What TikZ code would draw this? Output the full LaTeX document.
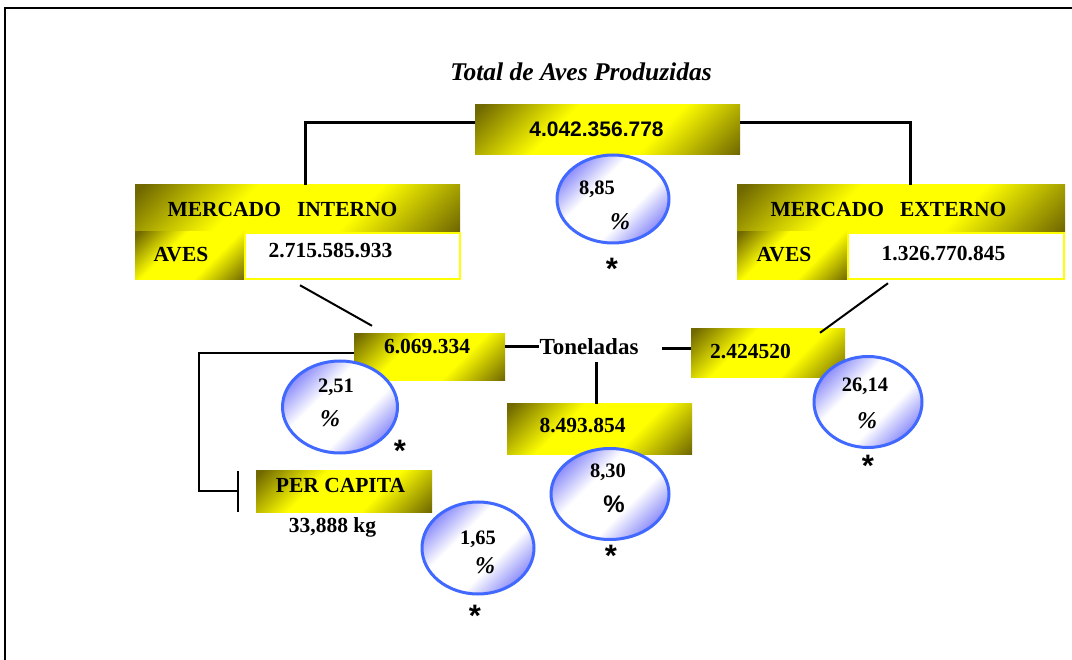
\documentclass[tikz,border=0pt]{standalone}
\usepackage{fontspec}
\setmainfont{Liberation Serif}
\setsansfont{Liberation Sans}
\usetikzlibrary{shapes.geometric}
\definecolor{dk}{RGB}{112,104,0}
\definecolor{yl}{RGB}{255,255,0}
\definecolor{bl}{RGB}{135,135,250}
\definecolor{bd}{RGB}{65,105,255}
\pgfdeclarehorizontalshading{goldsh}{100bp}{color(0bp)=(dk); color(16bp)=(dk); color(38bp)=(yl); color(62bp)=(yl); color(85bp)=(dk); color(100bp)=(dk)}
\pgfdeclarehorizontalshading{bluesh}{100bp}{color(0bp)=(bl); color(24bp)=(bl); color(40bp)=(white); color(60bp)=(white); color(76bp)=(bl); color(100bp)=(bl)}
\begin{document}
\begin{tikzpicture}[x=1pt,y=-1pt,
  goldbox/.style={rectangle, inner sep=0, shading=goldsh, shading angle=-45},
  whitebox/.style={rectangle, inner sep=0, fill=white, draw=yl, line width=2.5pt},
  bubble/.style={ellipse, inner sep=0, shading=bluesh, shading angle=-45, draw=bd, line width=3pt},
  lbl/.style={font=\bfseries\fontsize{21.5}{24}\selectfont, anchor=base, inner sep=0},
  blbl/.style={font=\bfseries\fontsize{20.5}{24}\selectfont, anchor=base, inner sep=0},
  pct/.style={font=\bfseries\itshape\fontsize{24}{26}\selectfont, anchor=base, inner sep=0},
  slbl/.style={font=\sffamily\bfseries\fontsize{21}{24}\selectfont, anchor=base, inner sep=0},
  star/.style={font=\sffamily\bfseries\fontsize{31}{33}\selectfont, anchor=north, inner sep=0},
  thk/.style={line width=3pt},
  thn/.style={line width=2pt}]
\useasboundingbox (0,0) rectangle (1072,660);
\fill[white] (0,0) rectangle (1072,660);
% frame
\draw[line width=1.6pt] (5,660) -- (5,8) -- (1072,8);

% title
\node[font=\bfseries\itshape\fontsize{25.5}{28}\selectfont, anchor=base, inner sep=0] (title) at (581,81) {Total de Aves Produzidas};

% boxes
\node[goldbox, minimum width=265pt, minimum height=50pt] (tot) at (607.5,130) {};
\node[goldbox, minimum width=325pt, minimum height=47pt] (mi) at (297.5,208.5) {};
\node[goldbox, minimum width=110pt, minimum height=48pt] (miaves) at (190,256) {};
\node[whitebox, minimum width=215pt, minimum height=46pt] (miwhite) at (352.5,256) {};
\node[goldbox, minimum width=328pt, minimum height=47pt] (me) at (901,208.5) {};
\node[goldbox, minimum width=111pt, minimum height=48pt] (meaves) at (792.5,256) {};
\node[whitebox, minimum width=216pt, minimum height=46pt] (mewhite) at (956,256) {};
\node[goldbox, minimum width=151pt, minimum height=47pt] (t1) at (429.5,357.5) {};
\node[goldbox, minimum width=154pt, minimum height=49pt] (t2) at (768,353.5) {};
\node[goldbox, minimum width=185pt, minimum height=51pt] (t3) at (599.5,429.5) {};
\node[goldbox, minimum width=176pt, minimum height=41pt] (pc) at (344,491.5) {};

% connectors
\draw[thk] ([yshift=7pt]tot.west) -| ([xshift=7.5pt]mi.north);
\draw[thk] ([yshift=7pt]tot.east) -| ([xshift=9pt]me.north);
\draw[thn] ([xshift=-52.5pt,yshift=-5pt]miwhite.south) -- ([xshift=-57.5pt,yshift=8pt]t1.north);
\draw[thn] ([xshift=-68pt,yshift=-3pt]mewhite.south) -- ([xshift=52pt,yshift=-4pt]t2.north);
\node[lbl, font=\bfseries\fontsize{23}{26}\selectfont] (ton) at (589,355) {Toneladas};
\draw[thk] ([yshift=10.5pt]t1.east) -- ([yshift=10.5pt]t1.east -| ton.west);
\draw[thk] ([xshift=-29pt,yshift=4.5pt]t2.west) -- ([yshift=4.5pt]t2.west);
\draw[thk] ([xshift=-3.5pt]t3.north) -- ++(0,-42);
\coordinate (bar) at (238,491);
\draw[thn] ([yshift=4.5pt]t1.west) -- ++(-155,0) |- (bar);
\draw[line width=2.5pt] (bar) ++(0,-20) -- ++(0,41);

% bubbles
\node[bubble, minimum width=112pt, minimum height=88pt] (e885) at (613,199) {};
\node[bubble, minimum width=115pt, minimum height=92pt] (e251) at (340,407) {};
\node[bubble, minimum width=118pt, minimum height=91pt] (e830) at (610,494) {};
\node[bubble, minimum width=112pt, minimum height=92pt] (e165) at (478,548) {};
\node[bubble, minimum width=108pt, minimum height=91pt] (e2614) at (868,402) {};

% box labels
\node[slbl] (ltot) at (596.5,137) {4.042.356.778};
\node[lbl] (lmi) at (282.5,217) {MERCADO\hspace{0.75em}INTERNO};
\node[lbl] (lmiaves) at (181,262) {AVES};
\node[lbl] (lmiw) at (330.5,258) {2.715.585.933};
\node[lbl] (lme) at (888.5,217) {MERCADO\hspace{0.75em}EXTERNO};
\node[lbl] (lmeaves) at (784,262) {AVES};
\node[lbl] (lmew) at (943.5,261) {1.326.770.845};
\node[lbl] (lt1) at (427,354) {6.069.334};
\node[lbl] (lt2) at (750.5,359) {2.424520};
\node[lbl] (lt3) at (582.5,433) {8.493.854};
\node[lbl] (lpc) at (340.5,493) {PER CAPITA};
\node[lbl] (lkg) at (332.5,532) {33,888 kg};

% bubble labels
\node[blbl] (v885) at (597,195) {8,85};
\node[pct] (p885) at (620,230) {\%};
\node[blbl] (v251) at (336,393) {2,51};
\node[pct] (p251) at (330,427) {\%};
\node[blbl] (v830) at (608,478) {8,30};
\node[slbl, font=\sffamily\bfseries\fontsize{24}{26}\selectfont] (p830) at (614,512) {\%};
\node[blbl] (v165) at (478,544) {1,65};
\node[pct] (p165) at (485,573) {\%};
\node[blbl] (v2614) at (865,392) {26,14};
\node[pct] (p2614) at (867,429) {\%};

% asterisks
\node[star] (s885) at (612,258) {*};
\node[star] (s251) at (400,440) {*};
\node[star] (s830) at (611,545) {*};
\node[star] (s165) at (475,605) {*};
\node[star] (s2614) at (868,455) {*};
\end{tikzpicture}
\end{document}
